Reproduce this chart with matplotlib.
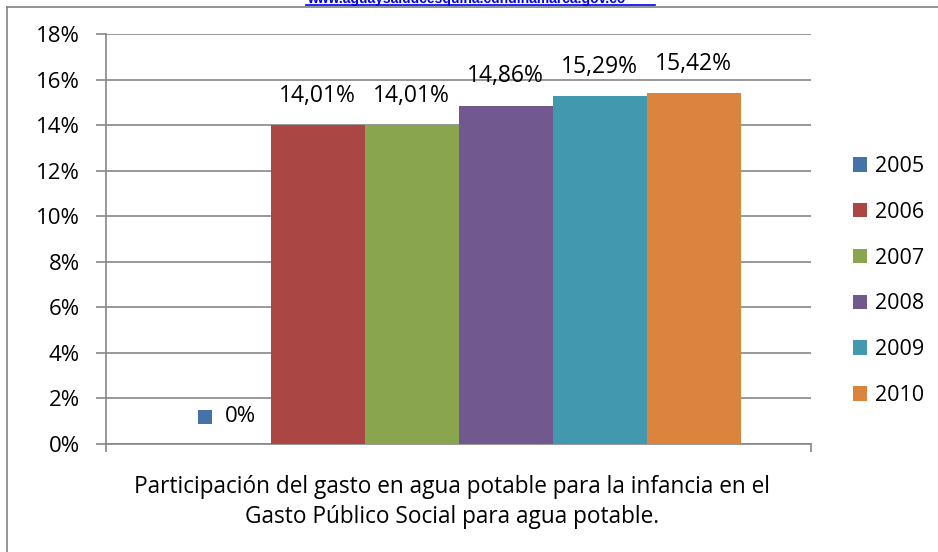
import matplotlib
matplotlib.use("Agg")
import matplotlib.pyplot as plt
from matplotlib.lines import Line2D
from matplotlib.patches import Patch
import numpy as np

years = ["2005", "2006", "2007", "2008", "2009", "2010"]
values = [0.0, 14.01, 14.01, 14.86, 15.29, 15.42]
labels = ["0%", "14,01%", "14,01%", "14,86%", "15,29%", "15,42%"]
colors = ["#4572A7", "#AA4643", "#89A54E", "#71588F", "#4198AF", "#DB843D"]
yticks = [0, 2, 4, 6, 8, 10, 12, 14, 16, 18]
ytick_labels = [f"{v}%" for v in yticks]
title_lines = ["Participación del gasto en agua potable para la infancia en el",
               "Gasto Público Social para agua potable."]
url = "www.aguaysaludcesquina.cundinamarca.gov.co"

FONT = "Open Sans"
plt.rcParams['font.family'] = [FONT, 'DejaVu Sans']

W, H = 938, 552
fig = plt.figure(figsize=(W / 100, H / 100), dpi=100)
fig.patch.set_facecolor("white")

def fx(px):
    return px / W

def fy(py):
    return 1 - py / H

gray = "#868686"
ax = fig.add_axes([fx(106), fy(444), fx(811) - fx(106), fy(34) - fy(444)])
x = np.arange(len(years))
bars = ax.bar(x, values, width=1.0, color=colors, zorder=3)
ax.set_xlim(-1.25, len(years) - 1 + 1.25)
ax.set_ylim(0, 18)
ax.set_yticks(yticks)
ax.set_yticklabels(ytick_labels, fontsize=16, color="#000000")
ax.set_xticks([-1.25, len(years) - 1 + 1.25])
ax.set_xticklabels([])
ax.tick_params(axis='y', length=7, width=1.2, color=gray, pad=12)
ax.tick_params(axis='x', length=6, width=1.2, color=gray)
ax.yaxis.grid(True, color=gray, linewidth=1.2, zorder=0)
ax.set_axisbelow(True)
for s in ["top", "right"]:
    ax.spines[s].set_visible(False)
for s in ["left", "bottom"]:
    ax.spines[s].set_color(gray)
    ax.spines[s].set_linewidth(1.2)

for i, (v, lab) in enumerate(zip(values, labels)):
    if i == 0:
        ax.annotate(lab, (i + 0.176, v), xytext=(0, 19.5), textcoords="offset points",
                    ha="center", va="center", fontsize=16)
        ax.scatter([i - 0.197], [v + 27 / 22.67], marker="s", s=88, color=colors[0],
                   zorder=4, clip_on=False, linewidths=0)
    else:
        ax.annotate(lab, (i, v), xytext=(0, 21), textcoords="offset points",
                    ha="center", va="center", fontsize=16.5)

handles = [Patch(facecolor=c, edgecolor='none') for c in colors]
leg = fig.legend(handles, years, loc="center left", bbox_to_anchor=(fx(853), fy(281)),
                 frameon=False, fontsize=15.5, handlelength=0.65, handleheight=0.65,
                 handletextpad=0.35, labelspacing=1.15, borderpad=0, borderaxespad=0)

fig.text(fx(452), fy(487), title_lines[0], ha="center", va="center", fontsize=16.3)
fig.text(fx(452), fy(517), title_lines[1], ha="center", va="center", fontsize=16.3)

# page border lines
fig.add_artist(Line2D([fx(7), fx(7)], [0, fy(7)], color="#808080", linewidth=1.2))
fig.add_artist(Line2D([fx(7), 1], [fy(7), fy(7)], color="#808080", linewidth=1.2))
# clipped URL at top
fig.text(fx(466), fy(3), url, ha="center", va="baseline", fontsize=10, color="#0000EE",
         fontweight="bold", family="Liberation Sans")
fig.add_artist(Line2D([fx(306), fx(655)], [fy(4.5), fy(4.5)], color="#0000EE", linewidth=1.2))

fig.savefig("out.png", dpi=100)
